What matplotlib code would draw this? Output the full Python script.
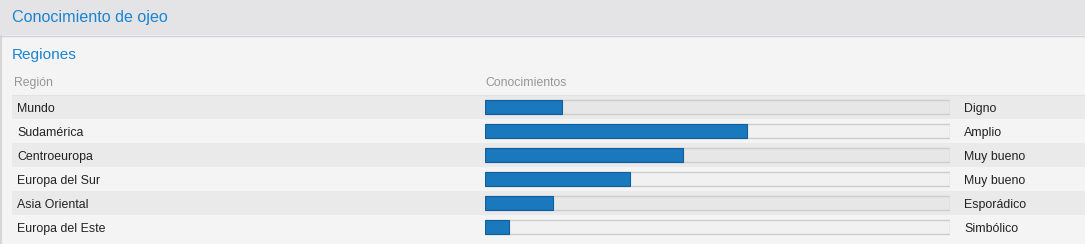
import matplotlib
matplotlib.use("Agg")
import matplotlib.pyplot as plt
from matplotlib.patches import Rectangle
from matplotlib.transforms import blended_transform_factory

plt.rcParams['font.family'] = ['Liberation Sans', 'DejaVu Sans']

title = 'Conocimiento de ojeo'
section = 'Regiones'
col_region = 'Región'
col_know = 'Conocimientos'
regions = ['Mundo', 'Sudamérica', 'Centroeuropa', 'Europa del Sur', 'Asia Oriental', 'Europa del Este']
levels = [16.6, 56.3, 42.6, 31.2, 14.6, 5.2]   # bar fill, percent of track
level_names = ['Digno', 'Amplio', 'Muy bueno', 'Muy bueno', 'Esporádico', 'Simbólico']

W, H = 1085, 244
fig = plt.figure(figsize=(W / 100, H / 100), dpi=100)
fig.patch.set_facecolor('#f4f4f4')

# full-figure axes in pixel units for the panel chrome
ax = fig.add_axes([0, 0, 1, 1])
ax.set_xlim(0, W)
ax.set_ylim(H, 0)
ax.axis('off')

ax.add_patch(Rectangle((0, 0), W, 35, facecolor='#e4e4e6', edgecolor='none'))
ax.axhline(35.5, color='#d2d2d4', lw=1)
ax.axvline(0.8, ymin=0, ymax=1 - 36 / H, color='#d0d0d0', lw=1.2)
ax.text(12, 17.5, title, color='#1a84d2', fontsize=11.6, va='center', ha='left')
ax.text(12, 54.5, section, color='#1a84d2', fontsize=11.1, va='center', ha='left')
ax.text(14, 83, col_region, color='#969696', fontsize=8.8, va='center', ha='left')
ax.text(485, 83, col_know, color='#969696', fontsize=8.8, va='center', ha='left')

# bar axes: x in percent over the track, y in row index
axb = fig.add_axes([485 / W, 1 - 239 / H, 465 / W, 144 / H])
axb.set_xlim(0, 100)
axb.set_ylim(len(regions) - 0.5, -0.5)
axb.axis('off')

rows = range(len(regions))
tr = blended_transform_factory(ax.transData, axb.transData)
for i in rows:
    shade = '#eaeaea' if i % 2 == 0 else '#f4f4f4'
    ax.add_patch(Rectangle((12, i - 0.5), W - 12, 1, transform=tr, facecolor=shade,
                           edgecolor='none', zorder=0))
    ax.text(17, i + 0.07, regions[i], transform=tr, fontsize=8.9, color='#222222', va='center', ha='left')
    ax.text(964, i + 0.07, level_names[i], transform=tr, fontsize=8.9, color='#222222', va='center', ha='left')
ax.plot([12, W], [-0.5, -0.5], transform=tr, color='#e2e2e2', lw=0.8)

axb.barh(list(rows), [100] * len(regions), height=0.6, facecolor=(0, 0, 0, 0.01),
         edgecolor='#cdcdcd', linewidth=1)
axb.barh(list(rows), levels, height=0.6, facecolor='#1a78bd', edgecolor='#0f5f9c', linewidth=0.8)

fig.savefig('out.png', dpi=100, facecolor=fig.get_facecolor())
